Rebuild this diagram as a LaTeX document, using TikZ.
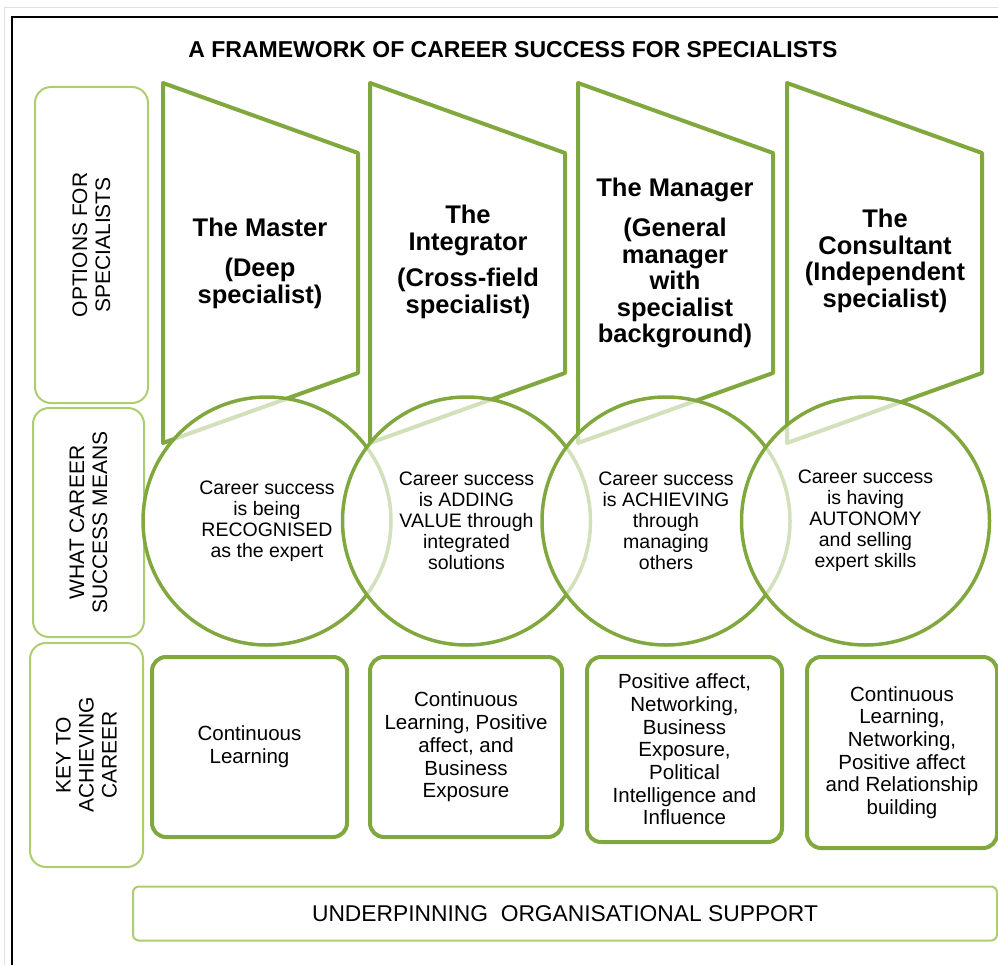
\documentclass[tikz,border=0pt]{standalone}
\usepackage{fontspec}
\setmainfont{Liberation Sans}
\usetikzlibrary{shadows}
\definecolor{leafgreen}{RGB}{128,168,62}
\definecolor{palegreen}{RGB}{172,206,112}

\begin{document}
\begin{tikzpicture}[x=1pt, y=-1pt,
    option/.style={draw=leafgreen, line width=4pt, line join=round},
    optiontext/.style={align=center, font=\fontsize{25.5}{26.5}\selectfont\bfseries},
    meaning/.style={circle, draw=leafgreen, line width=3.5pt, minimum size=248pt,
        fill=white, fill opacity=0.65, text opacity=1, align=center,
        font=\fontsize{19.5}{21}\selectfont},
    keybox/.style={rectangle, rounded corners=14pt, draw=leafgreen, line width=4pt,
        fill=white, drop shadow={shadow xshift=1.5pt, shadow yshift=-1.5pt, opacity=0.25},
        align=center, font=\fontsize{20.5}{22.7}\selectfont},
    rowlabel/.style={rectangle, rounded corners=16pt, draw=palegreen, line width=2pt,
        rotate=90, align=center, font=\fontsize{21}{23}\selectfont},
]
    \useasboundingbox (0,0) rectangle (998,965);

    % Page frame
    \draw[black!12, line width=1pt] (4,965) -- (4,8) -- (998,8);
    \draw[black, line width=2.2pt] (12,965) -- (12,17) -- (998,17);

    % Title
    \node[font=\fontsize{23}{26}\selectfont\bfseries] (title) at (513,50)
        {A FRAMEWORK OF CAREER SUCCESS FOR SPECIALISTS};

    % Row labels
    \node[rowlabel, minimum width=316pt, minimum height=113pt] (options) at (91.5,245)
        {OPTIONS FOR\\SPECIALISTS};
    \node[rowlabel, minimum width=229pt, minimum height=111pt] (means) at (88.5,522.5)
        {WHAT CAREER\\SUCCESS MEANS};
    \node[rowlabel, minimum width=224pt, minimum height=113pt] (keys) at (86.5,755)
        {KEY TO\\ACHIEVING\\CAREER};

    % Options for specialists
    \draw[option] (163,83) -- (358,153) -- (358,373) -- (163,443) -- cycle;
    \node[optiontext] (master) at (260,263) {The Master\\[14pt](Deep\\specialist)};

    \draw[option] (370,83) -- (565,153) -- (565,373) -- (370,443) -- cycle;
    \node[optiontext] (integrator) at (468,262) {The\\Integrator\\[10pt](Cross-field\\specialist)};

    \draw[option] (578,83) -- (773,153) -- (773,373) -- (578,443) -- cycle;
    \node[optiontext] (manager) at (675,263) {The Manager\\[14pt](General\\manager\\with\\specialist\\background)};

    \draw[option] (787,83) -- (982,153) -- (982,373) -- (787,443) -- cycle;
    \node[optiontext] (consultant) at (885,261) {The\\Consultant\\(Independent\\specialist)};

    % What career success means
    \node[meaning] (mean1) at (267,521) {Career success\\is being\\RECOGNISED\\as the expert};
    \node[meaning] (mean2) at (466.5,521) {Career success\\is ADDING\\VALUE through\\integrated\\solutions};
    \node[meaning] (mean3) at (666,521) {Career success\\is ACHIEVING\\through\\managing\\others};
    \node[meaning] (mean4) at (865.5,521) {Career success\\is having\\AUTONOMY\\and selling\\expert skills};

    % Keys to achieving career
    \node[keybox, minimum width=195pt, minimum height=180pt] (key1) at (249.5,747)
        {Continuous\\Learning};
    \node[keybox, minimum width=192pt, minimum height=180pt] (key2) at (466,747)
        {Continuous\\Learning, Positive\\affect, and\\Business\\Exposure};
    \node[keybox, minimum width=195pt, minimum height=185pt] (key3) at (684.5,749.5)
        {Positive affect,\\Networking,\\Business\\Exposure,\\Political\\Intelligence and\\Influence};
    \node[keybox, minimum width=190pt, minimum height=191pt] (key4) at (902,752.5)
        {Continuous\\Learning,\\Networking,\\Positive affect\\and Relationship\\building};

    % Underpinning support
    \node[rectangle, rounded corners=6pt, draw=palegreen, line width=2pt,
        minimum width=864pt, minimum height=54pt, font=\fontsize{22.8}{24}\selectfont]
        (support) at (565,913.5) {UNDERPINNING\ \ ORGANISATIONAL SUPPORT};
\end{tikzpicture}
\end{document}
